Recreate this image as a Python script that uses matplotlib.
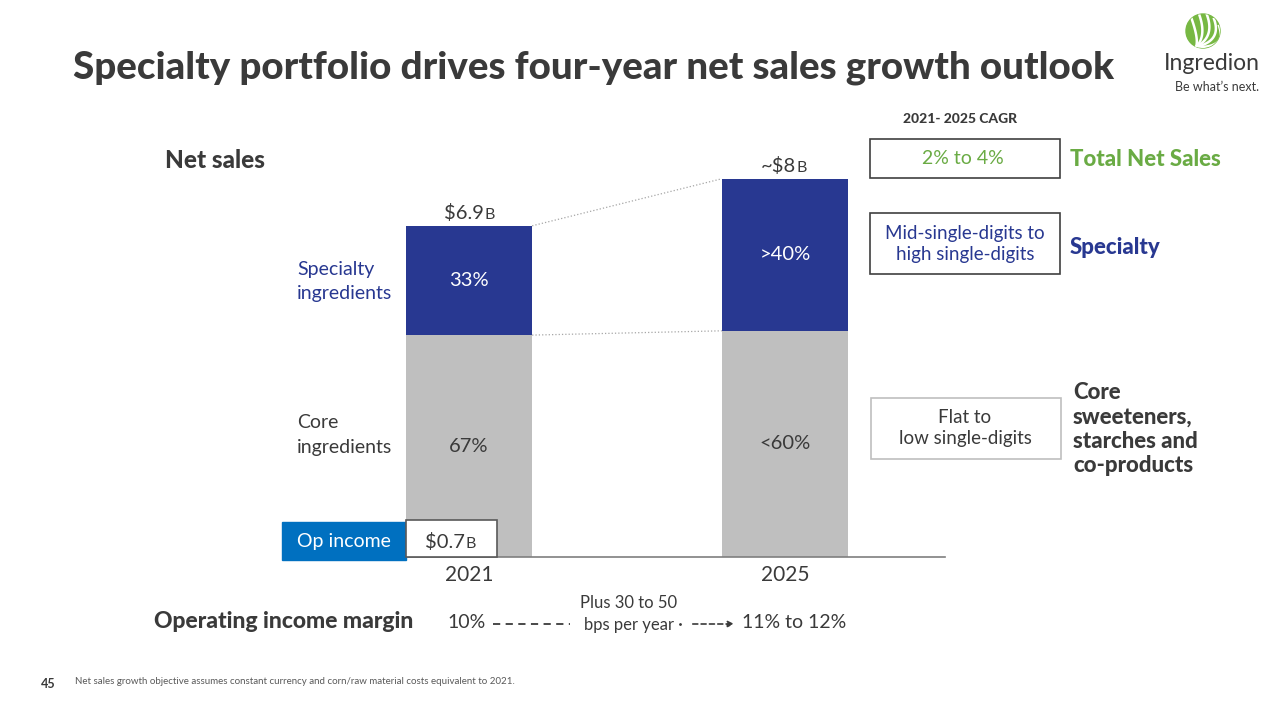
import numpy as np
import matplotlib.pyplot as plt
from matplotlib.patches import Rectangle, Circle

plt.rcParams['font.family'] = ['Lato', 'DejaVu Sans']

# data (billions USD)
years = ['2021', '2025']
total = np.array([6.9, 7.88])
core_share = np.array([0.67, 0.598])
core = total * core_share
specialty = total - core
spec_labels = ['33%', '>40%']
core_labels = ['67%', '<60%']
total_labels = ['$6.9', '~$8']
op_income = '$0.7'
margins = ['10%', '11% to 12%']

BLUE = '#283891'
GRAY = '#BFBFBF'
GREEN = '#6AAB44'
DARK = '#3A3A3A'
OPBLUE = '#0070C0'

fig = plt.figure(figsize=(12.8, 7.2), dpi=100)

# overlay in pixel coordinates for slide text
ov = fig.add_axes([0, 0, 1, 1], zorder=0)
ov.set_xlim(0, 1280)
ov.set_ylim(720, 0)
ov.axis('off')

# bar axes
ax = fig.add_axes([400 / 1280, 163 / 720, 545 / 1280, 408 / 720], zorder=2)
ax.patch.set_alpha(0)
x = np.arange(len(years))
w = 0.4
ax.bar(x, core, w, color=GRAY)
ax.bar(x, specialty, w, bottom=core, color=BLUE)
ax.set_xlim(-0.218, 1.506)
ax.set_ylim(0, 8.5)
for s in ['top', 'right', 'left']:
    ax.spines[s].set_visible(False)
ax.spines['bottom'].set_color('#7F7F7F')
ax.spines['bottom'].set_linewidth(1.2)
ax.set_yticks([])
ax.set_xticks(x)
ax.set_xticklabels(years, fontsize=15, color=DARK)
ax.tick_params(axis='x', length=0, pad=6)

# connector lines
ax.plot([x[0] + w / 2, x[1] - w / 2], [total[0], total[1]], ls=':', color='#A6A6A6', lw=0.9)
ax.plot([x[0] + w / 2, x[1] - w / 2], [core[0], core[1]], ls=':', color='#A6A6A6', lw=0.9)

for i in range(len(years)):
    ax.text(x[i], core[i] + specialty[i] / 2, spec_labels[i],
            ha='center', va='center', color='white', fontsize=14.5)
    ax.text(x[i], core[i] / 2, core_labels[i], ha='center', va='center',
            color=DARK, fontsize=14.5)
    t1 = ax.text(x[i] + (0.046 if i == 0 else 0.035), total[i] + 0.15,
                 total_labels[i].replace('$', r'\$'),
                 ha='right', va='baseline', color=DARK, fontsize=14.5)
    ax.annotate('B', xy=(1, 0), xycoords=t1, xytext=(0.5, 0), textcoords='offset points',
                ha='left', va='bottom', color=DARK, fontsize=11.5)

# title
ov.text(73, 68, 'Specialty portfolio drives four-year net sales growth outlook',
        fontsize=27.7, fontweight='black', color=DARK, ha='left', va='center')

# logo
logo = Circle((1203, 31), 17, color='#77B843')
ov.add_patch(logo)
base = np.array([1196.0, 47.0])
for ex, ey in [(1191, 17), (1199, 14), (1207, 15), (1214, 19), (1219, 26)]:
    t = np.linspace(0, 1, 30)
    ctrl = np.array([ex + 8, ey + 22])
    px = (1 - t) ** 2 * base[0] + 2 * (1 - t) * t * ctrl[0] + t ** 2 * ex
    py = (1 - t) ** 2 * base[1] + 2 * (1 - t) * t * ctrl[1] + t ** 2 * ey
    ln, = ov.plot(px, py, color='white', lw=1.8)
    ln.set_clip_path(logo)
ov.text(1212, 63, 'Ingredion', fontsize=16.5, color=DARK, ha='center', va='center')
ov.text(1217, 87, 'Be what\u2019s next.', fontsize=9, color=DARK, ha='center', va='center')

# left labels
ov.text(165, 161, 'Net sales', fontsize=17.5, fontweight='black', color=DARK, va='center')
ov.text(297, 282, 'Specialty\ningredients', fontsize=14, color=BLUE, va='center',
        linespacing=1.5)
ov.text(297, 435, 'Core\ningredients', fontsize=14, color=DARK, va='center',
        linespacing=1.5)

# op income (top overlay so it sits over the bar)
top = fig.add_axes([0, 0, 1, 1], zorder=5)
top.set_xlim(0, 1280)
top.set_ylim(720, 0)
top.axis('off')
top.add_patch(Rectangle((282, 522), 124, 38, color=OPBLUE))
top.text(344, 541, 'Op income', fontsize=14, color='white', ha='center', va='center')
top.add_patch(Rectangle((406, 520), 91, 37, facecolor='white', edgecolor='#595959', lw=1.2))
t2 = top.text(465, 548, r'\$' + op_income[1:], fontsize=14.5, color=DARK,
              ha='right', va='baseline')
top.annotate('B', xy=(1, 0), xycoords=t2, xytext=(0.5, 0), textcoords='offset points',
             ha='left', va='bottom', color=DARK, fontsize=11.5)

# operating margin row
ov.text(154, 621, 'Operating income margin', fontsize=16.5, fontweight='black',
        color=DARK, va='center')
ov.text(467, 623, margins[0], fontsize=14, color=DARK, ha='center', va='center')
ov.plot([493, 570], [624, 624], ls=(0, (4, 3)), color=DARK, lw=1.3)
ov.text(629, 603, 'Plus 30 to 50', fontsize=12, color=DARK, ha='center', va='center')
ov.text(629, 625, 'bps per year', fontsize=12, color=DARK, ha='center', va='center')
ov.annotate('', xy=(737, 624), xytext=(690, 624),
            arrowprops=dict(arrowstyle='-|>', ls=(0, (3, 2)), color=DARK, lw=1.2,
                            mutation_scale=9))
ov.plot([680], [624], marker='o', ms=1, color=DARK)
ov.text(794, 623, margins[1], fontsize=14, color=DARK, ha='center', va='center')

# CAGR panel
ov.text(960, 119, '2021- 2025 CAGR', fontsize=10, fontweight='black', color=DARK,
        ha='center', va='center')
ov.add_patch(Rectangle((870, 139), 190, 39, facecolor='none', edgecolor='#404040', lw=1.2))
ov.text(963, 158, '2% to 4%', fontsize=14, color=GREEN, ha='center', va='center')
ov.text(1070, 160, 'Total Net Sales', fontsize=16, fontweight='black', color=GREEN,
        va='center')
ov.add_patch(Rectangle((870, 213), 190, 61, facecolor='none', edgecolor='#404040', lw=1.2))
ov.text(965, 244, 'Mid-single-digits to\nhigh single-digits', fontsize=13.5, color=BLUE,
        ha='center', va='center', linespacing=1.3)
ov.text(1070, 247, 'Specialty', fontsize=16, fontweight='black', color=BLUE, va='center')
ov.add_patch(Rectangle((871, 398), 190, 61, facecolor='none', edgecolor='#BFBFBF', lw=1.2))
ov.text(965, 428, 'Flat to\nlow single-digits', fontsize=13.5, color=DARK,
        ha='center', va='center', linespacing=1.3)
ov.text(1073, 429, 'Core\nsweeteners,\nstarches and\nco-products', fontsize=16,
        fontweight='black', color=DARK, va='center', linespacing=1.2)

# footer
ov.text(41, 684, '45', fontsize=9, fontweight='bold', color=DARK, va='center')
ov.text(75, 681, 'Net sales growth objective assumes constant currency and corn/raw '
        'material costs equivalent to 2021.', fontsize=7, color='#595959', va='center')

fig.savefig('out.png', dpi=100)
